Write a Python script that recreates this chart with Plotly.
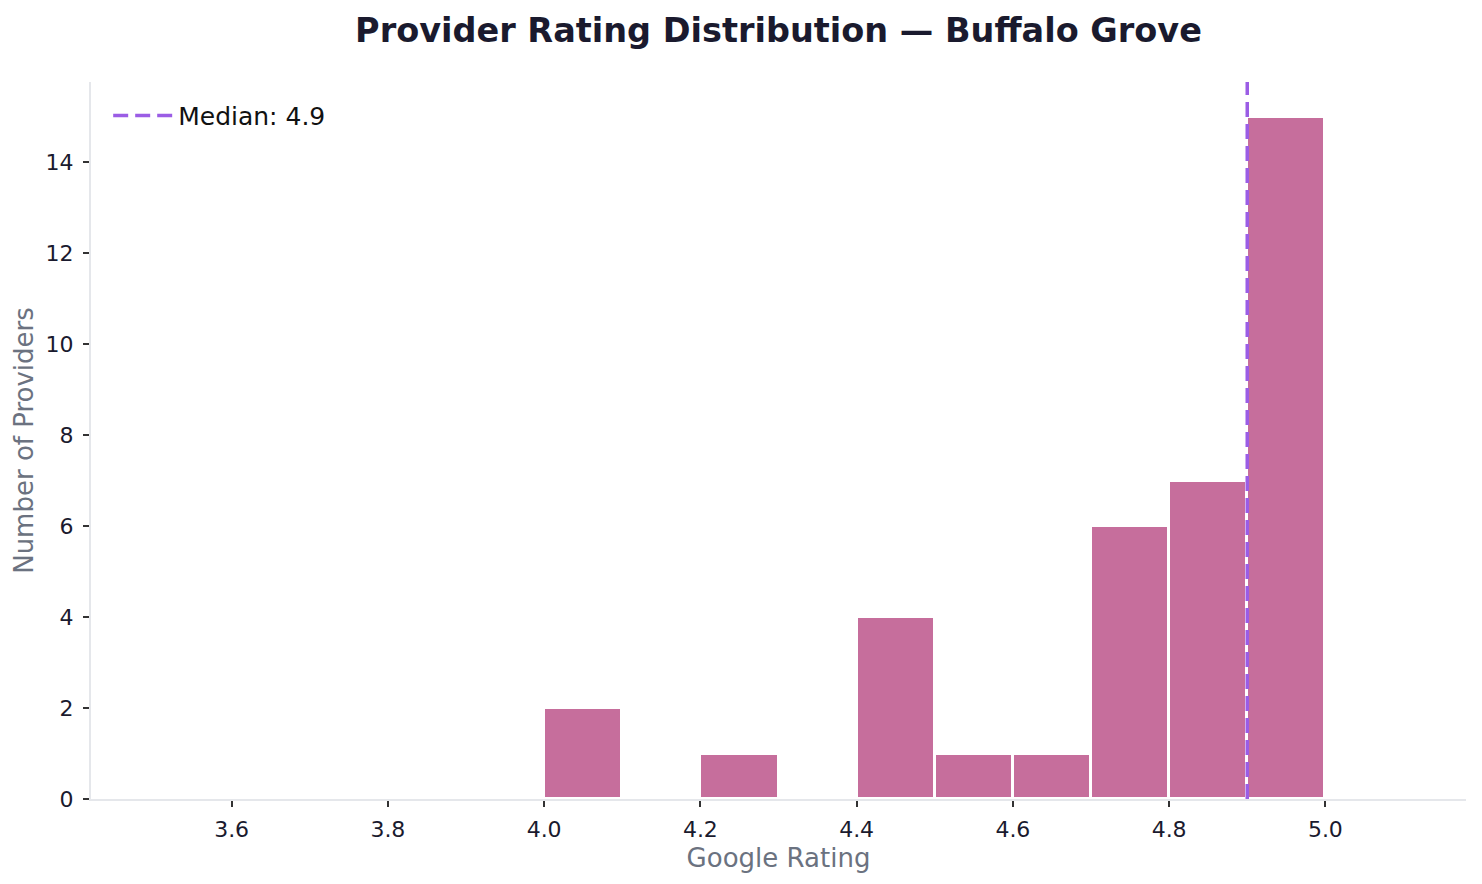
import plotly.graph_objects as go

# Data
bin_left = [4.0, 4.1, 4.2, 4.3, 4.4, 4.5, 4.6, 4.7, 4.8, 4.9]
counts = [2, 0, 1, 0, 4, 1, 1, 6, 7, 15]
bin_width = 0.1
median_rating = 4.9
x_ticks = [3.6, 3.8, 4.0, 4.2, 4.4, 4.6, 4.8, 5.0]
y_ticks = [0, 2, 4, 6, 8, 10, 12, 14]

centers = [b + bin_width / 2 for b in bin_left]

BAR = "#C66E9C"
MED = "#9B5DE5"
DARK = "#1a1a2e"
MUTED = "#6b7280"
SPINE = "#e5e7eb"
FONT = "DejaVu Sans"

W, H = 1466, 868

fig = go.Figure()
fig.add_trace(go.Bar(
    x=centers, y=counts, width=bin_width,
    marker=dict(color=BAR, line=dict(color="white", width=3)),
    showlegend=False, hoverinfo="x+y",
))
fig.add_shape(
    type="line", x0=median_rating, x1=median_rating, y0=0, y1=1,
    xref="x", yref="paper", layer="above",
    line=dict(color=MED, width=3.5, dash="15px,7px"),
    showlegend=True, name=f"Median: {median_rating}",
)

fig.update_layout(
    width=W, height=H,
    margin=dict(l=83, r=8, t=74, b=77),
    paper_bgcolor="white", plot_bgcolor="white",
    font=dict(family=FONT, color=DARK, size=22),
    title=dict(
        text="<b>Provider Rating Distribution — Buffalo Grove</b>",
        x=0.5, xref="paper", xanchor="center",
        y=1 - 22 / H, yref="container", yanchor="middle",
        font=dict(family=FONT, size=33.5, color=DARK),
    ),
    bargap=0,
    legend=dict(
        x=0.0125, y=0.985, xanchor="left", yanchor="top",
        bgcolor="rgba(255,255,255,0)", borderwidth=0,
        itemwidth=60,
        font=dict(family=FONT, size=25, color="#111111"),
    ),
    xaxis=dict(
        range=[3.42, 5.18],
        tickmode="array", tickvals=x_ticks,
        ticktext=[f"{v:.1f}" for v in x_ticks],
        ticks="outside", ticklen=6, tickwidth=1.5, tickcolor="#333333",
        ticklabelstandoff=4,
        showline=True, linecolor=SPINE, linewidth=2,
        showgrid=False, zeroline=False,
        tickfont=dict(family=FONT, size=22, color=DARK),
        title=dict(text="Google Rating", standoff=7,
                   font=dict(family=FONT, size=26, color=MUTED)),
    ),
    yaxis=dict(
        range=[0, 15.76],
        tickmode="array", tickvals=y_ticks,
        ticks="outside", ticklen=6, tickwidth=1.5, tickcolor="#333333",
        ticklabelstandoff=5,
        showline=True, linecolor=SPINE, linewidth=2,
        showgrid=False, zeroline=False,
        tickfont=dict(family=FONT, size=22, color=DARK),
        title=dict(text="Number of Providers", standoff=4,
                   font=dict(family=FONT, size=26, color=MUTED)),
    ),
)

fig.write_html("out.html")
